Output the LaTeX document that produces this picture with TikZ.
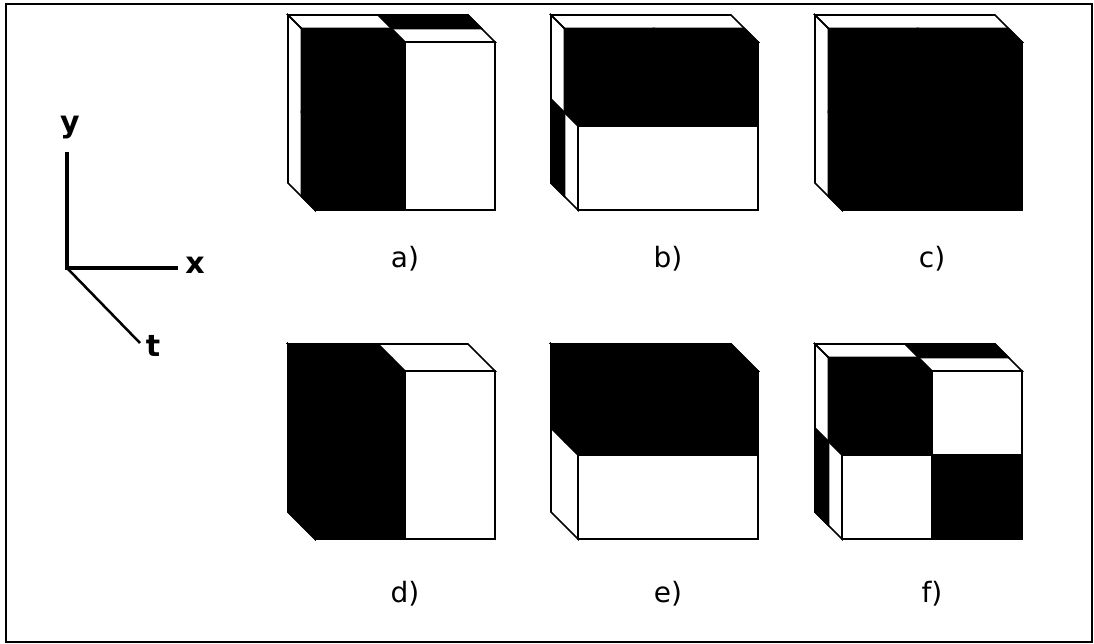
\documentclass[tikz,border=0pt]{standalone}
\usepackage{fontspec}
\setmainfont{DejaVu Sans}
\usetikzlibrary{positioning}
\tikzset{
  hxcel0/.style={fill=white},
  hxcel1/.style={fill=black, draw=black, line width=1.6pt},
  hxface/.style={draw=black, line width=1.6pt, line join=miter},
  hxeixo/.style={draw=black, line width=4.5pt, line join=miter},
  hxeixofino/.style={draw=black, line width=2.5pt},
  hxletra/.style={font=\fontsize{30}{34}\selectfont\bfseries, inner sep=0pt},
  hxrotulo/.style={font=\fontsize{28}{32}\selectfont, inner sep=0pt, anchor=base},
  hxmoldura/.style={draw=black, line width=2pt},
}
% cubo 2x2x2: #1,#2 canto de tras, #3 cor da celula (\i,\j,\k) -> 0 branco, 1 preto
\newcommand{\hxcubo}[3]{%
  \begin{scope}[shift={(#1,#2)}]
    \foreach \p in {0,1}{
      % face de cima
      \def\j{0}
      \foreach \i in {0,1}{\foreach \k in {0,1}{
        \pgfmathtruncatemacro{\hxc}{#3}
        \ifnum\hxc=\p
          \path[hxcel\hxc] (13.5*\k+90*\i, 13.5*\k) -- ++(90,0) -- ++(13.5,13.5) -- ++(-90,0) -- cycle;
        \fi
      }}
      % face da esquerda
      \def\i{0}
      \foreach \j in {0,1}{\foreach \k in {0,1}{
        \pgfmathtruncatemacro{\hxc}{#3}
        \ifnum\hxc=\p
          \path[hxcel\hxc] (13.5*\k, 13.5*\k+84*\j) -- ++(13.5,13.5) -- ++(0,84) -- ++(-13.5,-13.5) -- cycle;
        \fi
      }}
      % face da frente
      \def\k{1}
      \foreach \i in {0,1}{\foreach \j in {0,1}{
        \pgfmathtruncatemacro{\hxc}{#3}
        \ifnum\hxc=\p
          \path[hxcel\hxc] (27+90*\i, 27+84*\j) rectangle ++(90,84);
        \fi
      }}
    }
    % contornos
    \draw[hxface] (0,0) -- (180,0) -- (207,27) -- (27,27) -- cycle;
    \draw[hxface] (0,0) -- (27,27) -- (27,195) -- (0,168) -- cycle;
    \draw[hxface] (27,27) rectangle (207,195);
  \end{scope}}

\begin{document}
\begin{tikzpicture}[x=1pt, y=-1pt]
  \useasboundingbox (0,0) rectangle (1094,643);
  \draw[hxmoldura] (6,4) rectangle (1092,642);

  % eixos
  \coordinate (o) at (67,268);
  \coordinate (ey) at (67,152);
  \coordinate (ex) at (178,268);
  \coordinate (et) at (140,343);
  \draw[hxeixo] (ey) |- (ex);
  \draw[hxeixofino] (o) -- (et);
  \node[hxletra] (ly) at (70,128) {y};
  \node[hxletra] (lx) at (195,265) {x};
  \node[hxletra] (lt) at (153,346) {t};

  % cubos
  \hxcubo{288}{15}{mod(\i+\k,2)}
  \hxcubo{551}{15}{mod(\j+\k,2)}
  \hxcubo{815}{15}{\k}
  \hxcubo{288}{344}{1-\i}
  \hxcubo{551}{344}{1-\j}
  \hxcubo{815}{344}{mod(\i+\j+\k,2)}

  \node[hxrotulo] (la) at (405,267) {a)};
  \node[hxrotulo] (lb) at (668,267) {b)};
  \node[hxrotulo] (lc) at (932,267) {c)};
  \node[hxrotulo] (ld) at (405,602) {d)};
  \node[hxrotulo] (le) at (668,602) {e)};
  \node[hxrotulo] (lf) at (932,602) {f)};
\end{tikzpicture}
\end{document}
